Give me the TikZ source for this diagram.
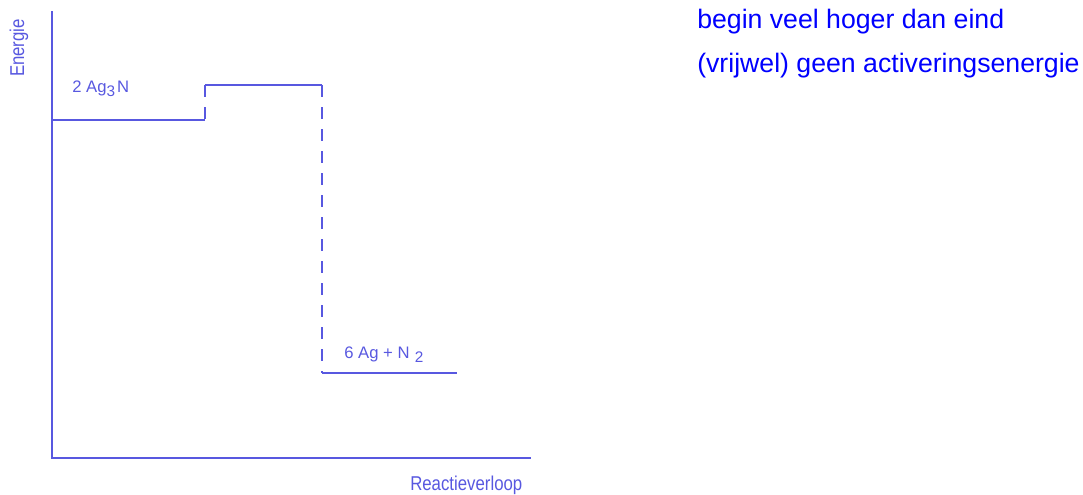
\documentclass[tikz,border=0pt]{standalone}
\usepackage{fontspec}
\setmainfont{Liberation Sans}
\definecolor{lineblue}{RGB}{88,88,224}
\definecolor{noteblue}{RGB}{0,0,255}
\newcommand{\narrow}[1]{\scalebox{0.84}[1]{#1}}
\newcommand{\low}[1]{\raisebox{-3.5pt}{\fontsize{11.5}{12}\selectfont #1}}
\tikzset{levelline/.style={lineblue, line width=1pt},
  jumpline/.style={lineblue, line width=1pt, dash pattern=on 9pt off 7.5pt},
  lbl/.style={text=lineblue, inner sep=0pt, anchor=base west, font=\fontsize{12.5}{14}\selectfont},
  axislbl/.style={text=lineblue, inner sep=0pt, font=\fontsize{15}{18}\selectfont},
  note/.style={text=noteblue, inner sep=0pt, anchor=base west, font=\fontsize{20}{24}\selectfont}}

\begin{document}
\begin{tikzpicture}[x=0.75pt, y=-0.75pt]
\useasboundingbox (0,0) rectangle (1083,494);
\coordinate (origin) at (52,458);
\coordinate (ytop) at (52,11);
\coordinate (xend) at (531,458);
\coordinate (r0) at (52,120);
\coordinate (r1) at (205,120);
\coordinate (t0) at (205,85);
\coordinate (t1) at (322,85);
\coordinate (p0) at (322,373);
\coordinate (p1) at (457,373);
\draw[levelline] (ytop) -- (origin) -- (xend);
\draw[levelline] (r0) -- (r1);
\draw[jumpline] (t0) -- (r1);
\draw[levelline] (t0) -- (t1);
\draw[jumpline] (t1) -- (p0);
\draw[levelline] (p0) -- (p1);
\node[axislbl, rotate=90] (yname) at (19,48) {\narrow{Energie}};
\node[axislbl, anchor=base west] (xname) at (410,490) {\narrow{Reactieverloop}};
\node[lbl] (reactant) at (72,92.3) {2 Ag\low{3}\hspace{1.5pt}N};
\node[lbl] (product) at (344,358.3) {6 Ag + N\hspace{4pt}\low{2}};
\node[note] (first) at (697,28) {begin veel hoger dan eind};
\node[note] (second) at (697,72) {(vrijwel) geen activeringsenergie};
\end{tikzpicture}
\end{document}
